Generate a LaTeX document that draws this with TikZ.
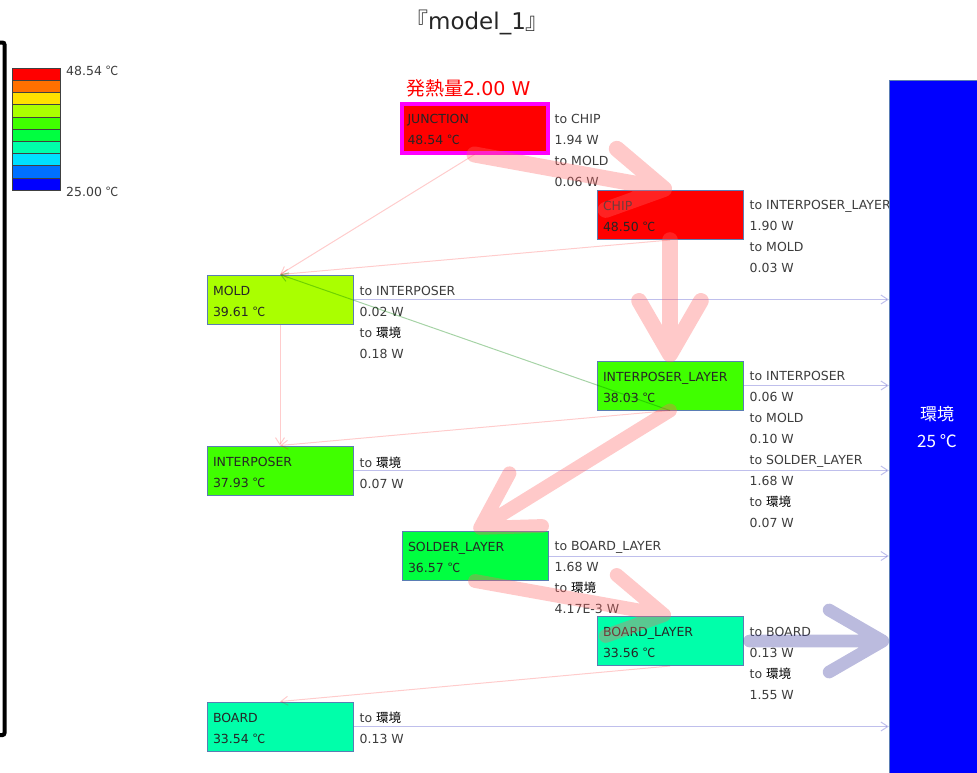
\documentclass[tikz,border=0pt]{standalone}
\usepackage{fontspec}
\setmainfont{DejaVu Sans}
\newfontfamily\jpfont{Noto Sans CJK JP}
\usetikzlibrary{arrows.meta,calc}

\newcommand{\degc}{{\jpfont ℃}}
\newcommand{\kankyo}{{\color{black}\jpfont 環境}}
% thick heat flow: shaft plus round chevron head
\newcommand{\heatflow}[4]{%
  \draw[bigflow, line width=#3, #4] (#1) -- ($(#2)!6pt!(#1)$) coordinate (tip)
    ($(tip)!62pt!30:(#1)$) -- (tip) -- ($(tip)!62pt!-30:(#1)$);}

\definecolor{edgeblue}{RGB}{90,125,180}
\definecolor{txtgray}{RGB}{60,60,60}
\definecolor{hotred}{RGB}{255,0,0}
\definecolor{hotpink}{RGB}{255,0,255}
\definecolor{moldgreen}{RGB}{170,255,0}
\definecolor{midgreen}{RGB}{64,255,0}
\definecolor{lowgreen}{RGB}{0,255,64}
\definecolor{aqua}{RGB}{0,255,170}
\definecolor{envblue}{RGB}{0,0,255}
\definecolor{flowred}{RGB}{255,100,100}
\definecolor{flowblue}{RGB}{60,60,160}

\tikzset{
  gen/.style={inner sep=0pt, text=txtgray, font=\fontsize{12.5}{21}\selectfont},
  part/.style={draw=edgeblue, line width=1pt, minimum width=146pt, minimum height=49pt,
    text width=134pt, inner xsep=6pt, inner ysep=0pt, align=left, text=black!85,
    font=\fontsize{12.5}{21}\selectfont,
    execute at begin node={\rule{0pt}{18.3pt}}, execute at end node={\strut}},
  flows/.style={gen, anchor=north west, align=left, execute at begin node={\strut}},
  link/.style={line width=1pt, -{Straight Barb[length=7pt,width=9pt]}},
  tolink/.style={link, red, opacity=.2},
  uplink/.style={link, green!50!black, opacity=.35},
  envlink/.style={link, blue!70!black, opacity=.25},
  bigflow/.style={line cap=round, line join=round},
}

\begin{document}
\begin{tikzpicture}[x=1pt, y=-1pt]
\useasboundingbox (0,0) rectangle (977,772);

% legend
\draw[line width=4pt, rounded corners=2pt] (-10,42.5) -- (4.5,42.5) -- (4.5,735) -- (-10,735);
\foreach \c [count=\i from 0] in {FF0000,FF7000,FFE000,AAFF00,40FF00,00FF40,00FFAA,00E0FF,0070FF,0000FF}{
  \definecolor{band}{HTML}{\c}
  \draw[black!75, fill=band] (12,68+12.2*\i) rectangle ++(48,12.2);
}
\node[gen, anchor=west] (tmax) at (66,71) {48.54 \degc};
\node[gen, anchor=west] (tmin) at (66,192) {25.00 \degc};

\node[text=black!85, font=\fontsize{23}{23}\selectfont] (title) at (477,22) {{\jpfont 『}model\_1{\jpfont 』}};
\node[inner sep=0pt, anchor=west, text=red, font=\fontsize{19}{19}\selectfont] (heat) at (406,88) {{\jpfont 発熱量}2.00 W};

% parts
\node[part, fill=hotred, draw=hotpink, line width=4pt] (junction) at (474.5,128) {JUNCTION\\48.54 \degc};
\node[part, fill=hotred] (chip) at (670,215) {CHIP\\48.50 \degc};
\node[part, fill=moldgreen] (mold) at (280,299.5) {MOLD\\39.61 \degc};
\node[part, fill=midgreen] (ilayer) at (670,385.5) {INTERPOSER\_LAYER\\38.03 \degc};
\node[part, fill=midgreen] (interposer) at (280,470.5) {INTERPOSER\\37.93 \degc};
\node[part, fill=lowgreen] (slayer) at (475,556) {SOLDER\_LAYER\\36.57 \degc};
\node[part, fill=aqua] (blayer) at (670,641) {BOARD\_LAYER\\33.56 \degc};
\node[part, fill=aqua] (board) at (280,726.5) {BOARD\\33.54 \degc};

% flow values
\node[flows] (junction-q) at ([xshift=5pt,yshift=-13pt]junction.north east) {to CHIP\\1.94 W\\to MOLD\\0.06 W};
\node[flows] (chip-q) at ([xshift=6pt,yshift=-10.5pt]chip.north east) {to INTERPOSER\_LAYER\\1.90 W\\to MOLD\\0.03 W};
\node[flows] (mold-q) at ([xshift=6pt,yshift=-11.5pt]mold.north east) {to INTERPOSER\\0.02 W\\to \kankyo\\0.18 W};
\node[flows] (ilayer-q) at ([xshift=6pt,yshift=-10.5pt]ilayer.north east) {to INTERPOSER\\0.06 W\\to MOLD\\0.10 W\\to SOLDER\_LAYER\\1.68 W\\to \kankyo\\0.07 W};
\node[flows] (interposer-q) at ([xshift=6pt,yshift=-11pt]interposer.north east) {to \kankyo\\0.07 W};
\node[flows] (slayer-q) at ([xshift=6pt,yshift=-10.5pt]slayer.north east) {to BOARD\_LAYER\\1.68 W\\to \kankyo\\4.17E-3 W};
\node[flows] (blayer-q) at ([xshift=6pt,yshift=-11pt]blayer.north east) {to BOARD\\0.13 W\\to \kankyo\\1.55 W};
\node[flows] (board-q) at ([xshift=6pt,yshift=-10.5pt]board.north east) {to \kankyo\\0.13 W};

% ambient
\node[draw=edgeblue, fill=envblue, text=white, minimum width=96pt, minimum height=694pt, align=center,
  font=\jpfont\fontsize{17}{27}\selectfont] (env) at (937,427) {環境\\25 ℃};
\coordinate (blout) at ([xshift=6pt]blayer.east);
\coordinate (envin) at (blayer.east -| env.west);

% small flows
\draw[tolink] (junction.south) -- (mold.north);
\draw[tolink] (chip.south) -- (mold.north);
\draw[tolink] (mold.south) -- (interposer.north);
\draw[tolink] (ilayer.south) -- (interposer.north);
\draw[uplink] (ilayer.south) -- (mold.north);
\draw[tolink] (blayer.south) -- (board.north);
\foreach \n in {mold,ilayer,interposer,slayer,board}
  \draw[envlink] (\n.east) -- (\n.east -| env.west);

% main flows
\begin{scope}[transparency group, opacity=.35]
\heatflow{junction.south}{chip.north}{16pt}{flowred}
\heatflow{chip.south}{ilayer.north}{15.6pt}{flowred}
\heatflow{ilayer.south}{slayer.north}{13.8pt}{flowred}
\heatflow{slayer.south}{blayer.north}{13.8pt}{flowred}
\heatflow{blout}{envin}{12.7pt}{flowblue}
\end{scope}
\end{tikzpicture}
\end{document}
